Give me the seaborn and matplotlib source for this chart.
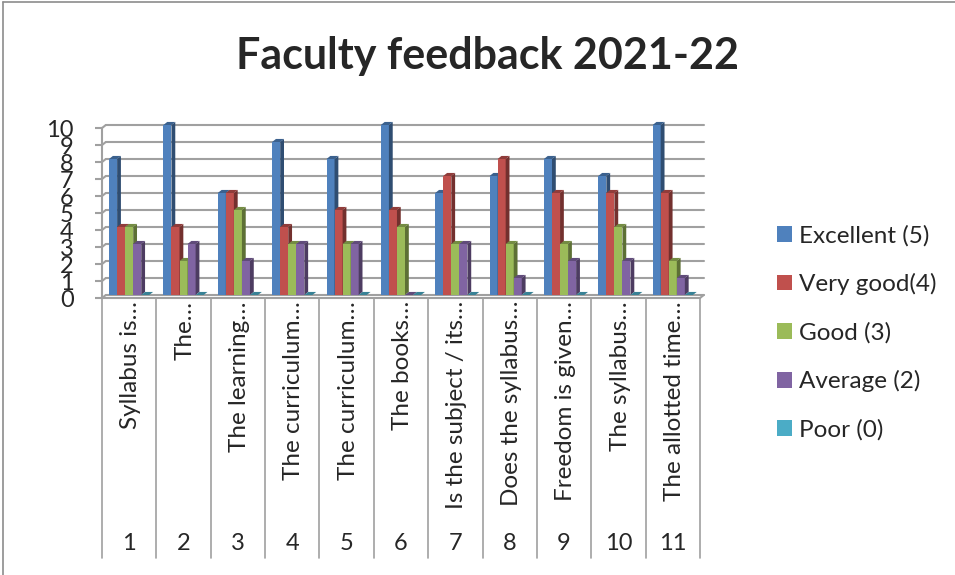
import pandas as pd
import matplotlib
matplotlib.use('Agg')
import matplotlib.pyplot as plt
import matplotlib.transforms as mtransforms
from matplotlib.patches import Polygon, Patch
from matplotlib.lines import Line2D
from matplotlib.colors import to_rgb
import seaborn as sns

# Dados do gráfico
itens = ['1', '2', '3', '4', '5', '6', '7', '8', '9', '10', '11']
rotulos = ['Syllabus is…', 'The…', 'The learning…', 'The curriculum…',
           'The curriculum…', 'The books…', 'Is the subject / its…',
           'Does the syllabus…', 'Freedom is given…', 'The syllabus…',
           'The allotted time…']
series = ['Excellent (5)', 'Very good(4)', 'Good (3)', 'Average (2)', 'Poor (0)']
excelente = [8, 10, 6, 9, 8, 10, 6, 7, 8, 7, 10]
muito_bom = [4, 4, 6, 4, 5, 5, 7, 8, 6, 6, 6]
bom = [4, 2, 5, 3, 3, 4, 3, 3, 3, 4, 2]
medio = [3, 3, 2, 3, 3, 0, 3, 1, 2, 2, 1]
fraco = [0, 0, 0, 0, 0, 0, 0, 0, 0, 0, 0]
cores = ['#4F81BD', '#C0504D', '#9BBB59', '#8064A2', '#4BACC6']

valores = [excelente, muito_bom, bom, medio, fraco]
df = pd.DataFrame({
    'Item': itens * len(series),
    'Serie': [s for s in series for _ in itens],
    'Total': [v for lista in valores for v in lista],
})

sns.set_style('white')
plt.rcParams['font.family'] = ['Lato', 'DejaVu Sans']

W, H = 955, 575
fig = plt.figure(figsize=(W / 100, H / 100), dpi=100)

# posição do eixo (em pixels da imagem de referência)
dx, dy = 0.07, 0.18          # profundidade do efeito 3D (unidades de dados)
px_x = 54.36                 # pixels por categoria
px_y = 17.0                  # pixels por unidade
x_esq, x_dir = -0.5, 10.8
y_inf, y_sup = -dy, 10.3
esq_px = 102
zero_px = 295
ax = fig.add_axes([esq_px / W, (H - (zero_px - y_inf * px_y)) / H,
                   (x_dir - x_esq) * px_x / W, (y_sup - y_inf) * px_y / H])

sns.barplot(data=df, x='Item', y='Total', hue='Serie', order=itens,
            hue_order=series, palette=cores, width=0.74, gap=0,
            saturation=1, linewidth=0, legend=False, ax=ax)

# faces laterais e superiores (efeito 3D)
mapa_cor = {tuple(round(c, 3) for c in to_rgb(c)): k for k, c in enumerate(cores)}
for p in list(ax.patches):
    cor = to_rgb(p.get_facecolor())
    k = mapa_cor.get(tuple(round(c, 3) for c in cor), 0)
    z = 3 + k * 0.2
    p.set_zorder(z)
    x0, w, h = p.get_x(), p.get_width(), p.get_height()
    x1 = x0 + w
    lado = [c * 0.6 for c in cor]
    topo = [c * 0.75 for c in cor]
    ax.add_patch(Polygon([(x1, 0), (x1 + dx, dy), (x1 + dx, h + dy), (x1, h)],
                         closed=True, facecolor=lado, edgecolor='none', zorder=z + 0.1))
    ax.add_patch(Polygon([(x0, h), (x0 + dx, h + dy), (x1 + dx, h + dy), (x1, h)],
                         closed=True, facecolor=topo, edgecolor='none', zorder=z + 0.1))

ax.set_xlim(x_esq, x_dir)
ax.set_ylim(y_inf, y_sup)
ax.set_xlabel('')
ax.set_ylabel('')
ax.set_xticks([])

cinza = '#A0A0A0'
# linhas de grade na parede do fundo
for v in range(11):
    ax.plot([-0.5 + dx, 10.5 + dx], [v, v], color=cinza, lw=1.5, zorder=1, clip_on=False)
    ax.plot([-0.5, -0.5 + dx], [v - dy, v], color=cinza, lw=1.5, zorder=1, clip_on=False)
# piso
ax.plot([-0.5, 10.5], [-dy, -dy], color=cinza, lw=1.5, zorder=2, clip_on=False)
ax.plot([10.5, 10.5 + dx], [-dy, 0], color=cinza, lw=1.5, zorder=2, clip_on=False)

ax.set_yticks([v - dy for v in range(11)])
ax.set_yticklabels([str(v) for v in range(11)], fontsize=17)
ax.tick_params(axis='y', length=5, width=1.5, color=cinza, pad=15.5, left=True)
for lado in ['top', 'right', 'bottom']:
    ax.spines[lado].set_visible(False)
ax.spines['left'].set_color(cinza)
ax.spines['left'].set_linewidth(1.5)
ax.spines['left'].set_bounds(-dy, 10 - dy)

# tabela de categorias abaixo do eixo
trans = mtransforms.blended_transform_factory(ax.transData, fig.transFigure)
topo_tab = (H - (zero_px + dy * px_y)) / H
base_tab = (H - 558) / H
for xv in [i - 0.5 for i in range(12)]:
    ax.plot([xv, xv], [topo_tab, base_tab], color=cinza, lw=1.2,
            transform=trans, clip_on=False)
for i, (rot, num) in enumerate(zip(rotulos, itens)):
    ax.text(i + 0.03, (H - 301) / H, rot, rotation=90, ha='center', va='top',
            fontsize=17.5, transform=trans)
    ax.text(i, (H - 543) / H, num, ha='center', va='center', fontsize=17,
            transform=trans)

# título
fig.text(487 / W, (H - 56) / H, 'Faculty feedback 2021-22', ha='center',
         va='center', fontsize=31, fontweight='bold')

# legenda
alcas = [Patch(facecolor=c, edgecolor='none') for c in cores]
fig.legend(alcas, series, loc='upper left', bbox_to_anchor=(777 / W, (H - 225) / H),
           frameon=False, fontsize=17.5, handlelength=0.6, handleheight=0.6,
           handletextpad=0.3, labelspacing=1.1, borderpad=0, borderaxespad=0)

# moldura
fig.add_artist(Line2D([3 / W, 3 / W], [0, 1 - 2 / H], color='#8C8C8C', lw=1.2))
fig.add_artist(Line2D([3 / W, 1], [1 - 2 / H, 1 - 2 / H], color='#8C8C8C', lw=1.2))

plt.savefig('out.png', dpi=100)
